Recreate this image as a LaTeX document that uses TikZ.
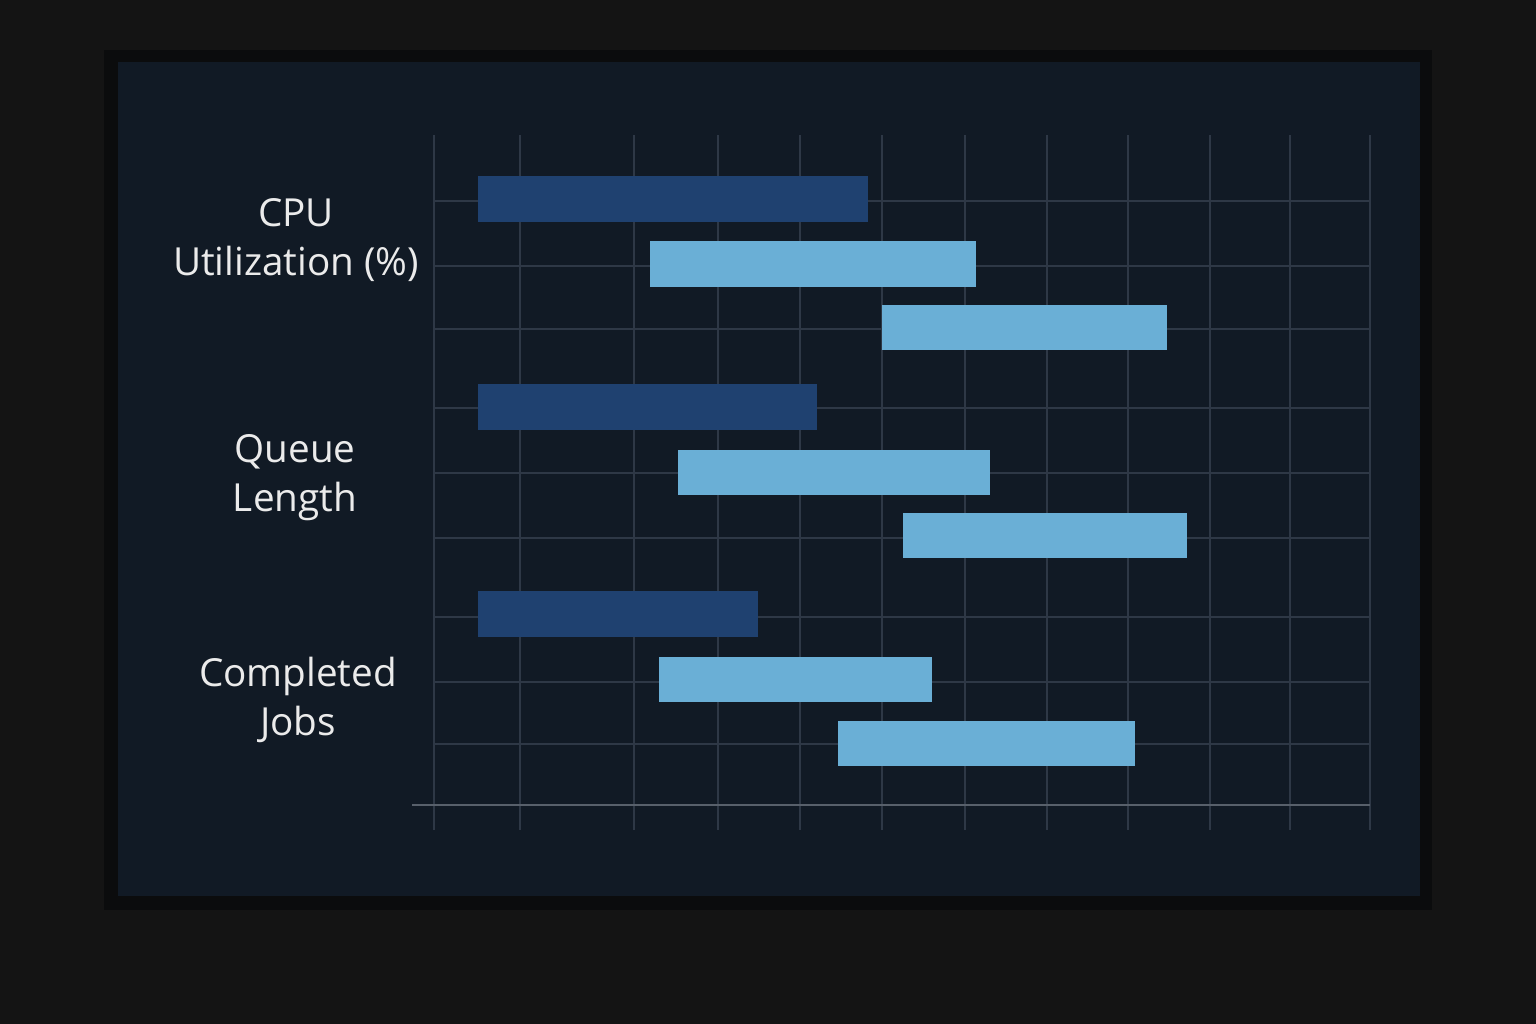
\documentclass[tikz,border=0pt]{standalone}
\usepackage{fontspec}
\setmainfont{Open Sans}
\usetikzlibrary{positioning}
\definecolor{roomcol}{HTML}{141414}
\definecolor{framecol}{HTML}{0B0C0D}
\definecolor{panelcol}{HTML}{111A25}
\definecolor{gridcol}{HTML}{2E3846}
\definecolor{darkbar}{HTML}{1F4170}
\definecolor{lightbar}{HTML}{6AAFD6}
\tikzset{
  darkbox/.style={fill=darkbar, draw=none},
  lightbox/.style={fill=lightbar, draw=none},
  metric/.style={text=white!92!black, align=center, font=\fontsize{22}{28}\selectfont}
}
\begin{document}
\begin{tikzpicture}[x=0.02cm, y=-0.02cm]
    % Background and frame
    \fill[roomcol] (0,0) rectangle (1536,1024);
    \useasboundingbox (0,0) rectangle (1536,1024);
    \fill[framecol] (104,50) rectangle (1432,910);
    \fill[panelcol] (118,62) rectangle (1420,896);
    
    % Grid
    \foreach \gx in {434,520,634,718,800,882,965,1047,1128,1210,1290,1370}
        \draw[gridcol, line width=0.8pt] (\gx,135) -- (\gx,830);
    \foreach \gy in {201,266,329,408,473,538,617,682,744}
        \draw[gridcol, line width=0.8pt] (434,\gy) -- (1370,\gy);
    \draw[gridcol!80!white, line width=1pt] (412,805) -- (1370,805);
    
    % Bars
    \fill[darkbox] (478,176) rectangle (868,222);
    \fill[lightbox] (650,241) rectangle (976,287);
    \fill[lightbox] (882,305) rectangle (1167,350);
    \fill[darkbox] (478,384) rectangle (817,430);
    \fill[lightbox] (678,450) rectangle (990,495);
    \fill[lightbox] (903,513) rectangle (1187,558);
    \fill[darkbox] (478,591) rectangle (758,637);
    \fill[lightbox] (659,657) rectangle (932,702);
    \fill[lightbox] (838,721) rectangle (1135,766);
    
    % Labels
    \node[metric] (cpu) at (296,240) {CPU\\Utilization (\%)};
    \node[metric] (queue) at (295,478) {Queue\\Length};
    \node[metric] (jobs) at (298,700) {Completed\\Jobs};
    
\end{tikzpicture}
\end{document}
